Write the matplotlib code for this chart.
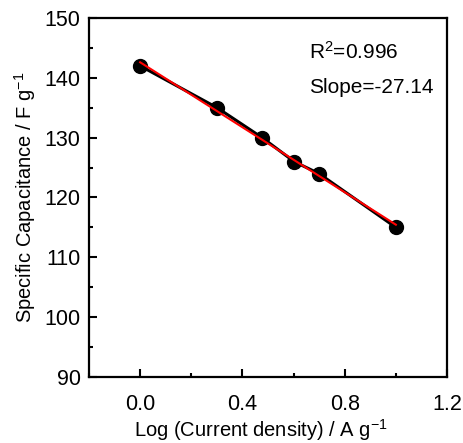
import numpy as np
import matplotlib
matplotlib.use("Agg")
import matplotlib.pyplot as plt
from matplotlib.ticker import MultipleLocator

plt.rcParams['font.family'] = ['Liberation Sans', 'DejaVu Sans']
plt.rcParams['mathtext.fontset'] = 'custom'
plt.rcParams['mathtext.rm'] = 'Liberation Sans'
plt.rcParams['mathtext.it'] = 'Liberation Sans'
plt.rcParams['mathtext.default'] = 'regular'

log_j = [0.0, 0.301, 0.477, 0.602, 0.699, 1.0]
capacitance = [142, 135, 130, 126, 124, 115]
x_ticks = [0.0, 0.4, 0.8, 1.2]
x_labels = ['0.0', '0.4', '0.8', '1.2']
y_ticks = [90, 100, 110, 120, 130, 140, 150]

fig = plt.figure(figsize=(4.64, 4.43), dpi=100)
ax = fig.add_axes([0.1918, 0.149, 0.7716, 0.8104])

ax.plot(log_j, capacitance, '-o', color='black', lw=2.2, markersize=10, zorder=2)
coef = np.polyfit(log_j, capacitance, 1)
xf = np.array([min(log_j), max(log_j)])
ax.plot(xf, np.polyval(coef, xf), color='red', lw=1.5, zorder=3)

ax.set_xlim(-0.2, 1.2)
ax.set_ylim(90, 150)
ax.set_xticks(x_ticks)
ax.set_xticklabels(x_labels)
ax.set_yticks(y_ticks)
ax.xaxis.set_minor_locator(MultipleLocator(0.2))
ax.yaxis.set_minor_locator(MultipleLocator(5))
ax.tick_params(which='both', direction='in', top=False, right=False, width=1.5)
ax.tick_params(which='major', length=6, labelsize=15.5)
ax.tick_params(which='minor', length=3)
ax.tick_params(axis='x', which='major', pad=12)
ax.tick_params(axis='y', which='major', pad=6)
for s in ax.spines.values():
    s.set_linewidth(1.6)

ax.set_xlabel('Log (Current density) / A g$^{-1}$', fontsize=14.5, labelpad=2)
ax.xaxis.label.set_x(0.48)
ax.set_ylabel('Specific Capacitance / F g$^{-1}$', fontsize=14.5, labelpad=5)

ax.text(0.66, 144.3, 'R$^{2}$=0.996', fontsize=15, va='center')
ax.text(0.66, 138.3, 'Slope=-27.14', fontsize=15, va='center')

fig.savefig('out.png', dpi=100)
